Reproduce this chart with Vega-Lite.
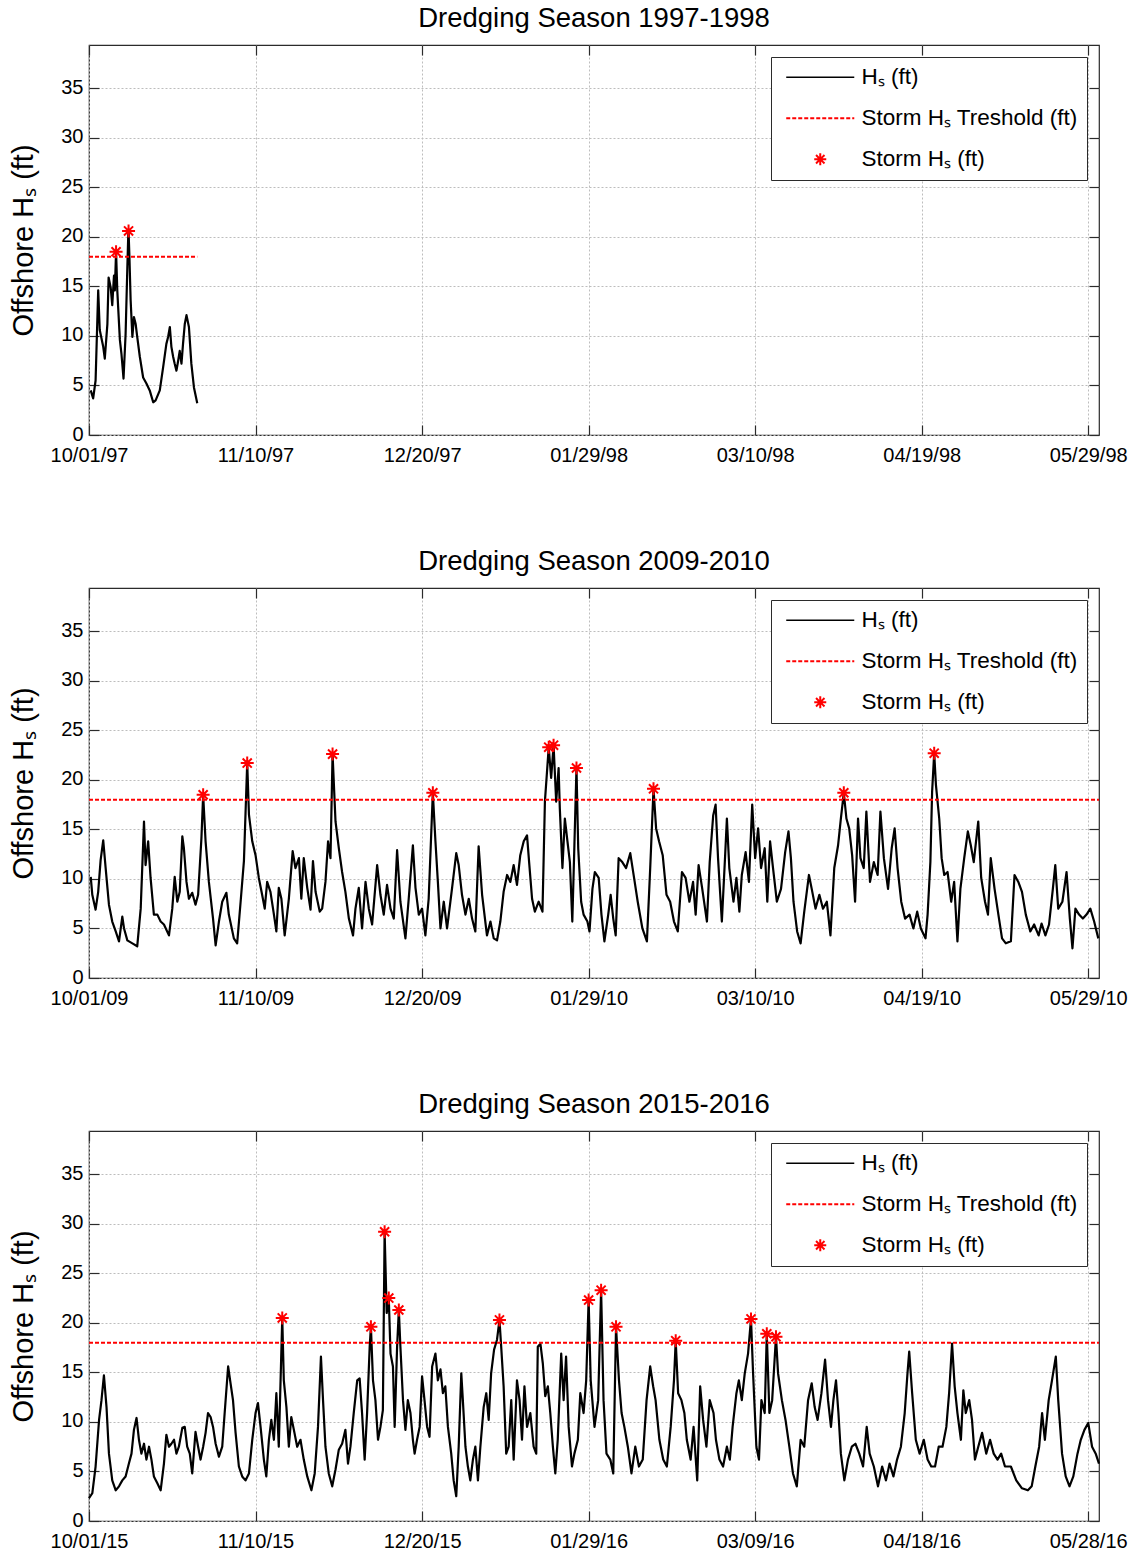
{
  "$schema": "https://vega.github.io/schema/vega-lite/v6.json",
  "background": "white",
  "padding": {"left": 9, "top": 4, "right": 4, "bottom": 4},
  "config": {
    "font": "Liberation Sans",
    "view": {"stroke": "#2b2b2b", "strokeWidth": 1.2},
    "axis": {"labelFont": "Liberation Sans", "labelFontSize": 20, "labelColor": "#000", "titleFont": "Liberation Sans", "titleFontSize": 29, "titleFontWeight": "normal", "titleColor": "#000", "domain": false, "tickColor": "#2b2b2b", "tickSize": -10, "tickWidth": 1.2, "gridColor": "#bdbdbd", "gridDash": [2, 2], "gridWidth": 1},
    "title": {"font": "Liberation Sans", "fontSize": 27.5, "fontWeight": "normal", "color": "#000", "offset": 12},
    "legend": {"orient": "top-right", "offset": 12, "labelFont": "Liberation Sans", "labelFontSize": 22.5, "labelColor": "#000", "strokeColor": "#2b2b2b", "fillColor": "white", "padding": 9, "cornerRadius": 0, "rowPadding": 18, "symbolSize": 144, "symbolOffset": 29, "labelOffset": 30, "symbolStrokeWidth": 1.5, "labelLimit": 400}
  },
  "datasets": {
    "p97": [
      {"t":"1997-10-01T10:00","hs":4.5},{"t":"1997-10-02T00:00","hs":3.7},{"t":"1997-10-02T14:00","hs":5.5},{"t":"1997-10-03T05:00","hs":14.6},{"t":"1997-10-03T14:00","hs":10.6},{"t":"1997-10-04T10:00","hs":8.9},{"t":"1997-10-04T19:00","hs":7.7},{"t":"1997-10-05T10:00","hs":11.2},{"t":"1997-10-05T17:00","hs":15.9},{"t":"1997-10-06T05:00","hs":14.9},{"t":"1997-10-06T14:00","hs":13.1},{"t":"1997-10-07T00:00","hs":16.1},{"t":"1997-10-07T05:00","hs":14.6},{"t":"1997-10-07T12:00","hs":18.5},{"t":"1997-10-07T19:00","hs":14.6},{"t":"1997-10-08T10:00","hs":9.6},{"t":"1997-10-08T19:00","hs":8.2},{"t":"1997-10-09T07:00","hs":5.7},{"t":"1997-10-09T19:00","hs":10.2},{"t":"1997-10-10T05:00","hs":16.9},{"t":"1997-10-10T10:00","hs":20.0},{"t":"1997-10-10T12:00","hs":20.6},{"t":"1997-10-10T17:00","hs":18.0},{"t":"1997-10-11T00:00","hs":13.6},{"t":"1997-10-11T10:00","hs":9.9},{"t":"1997-10-11T19:00","hs":11.9},{"t":"1997-10-12T05:00","hs":11.2},{"t":"1997-10-12T14:00","hs":9.9},{"t":"1997-10-13T05:00","hs":7.9},{"t":"1997-10-14T00:00","hs":5.8},{"t":"1997-10-14T19:00","hs":5.2},{"t":"1997-10-15T14:00","hs":4.5},{"t":"1997-10-16T10:00","hs":3.3},{"t":"1997-10-17T00:00","hs":3.5},{"t":"1997-10-18T00:00","hs":4.5},{"t":"1997-10-18T19:00","hs":6.8},{"t":"1997-10-19T14:00","hs":9.2},{"t":"1997-10-20T00:00","hs":9.9},{"t":"1997-10-20T10:00","hs":10.9},{"t":"1997-10-20T19:00","hs":8.9},{"t":"1997-10-21T05:00","hs":7.9},{"t":"1997-10-21T14:00","hs":7.2},{"t":"1997-10-22T00:00","hs":6.5},{"t":"1997-10-22T10:00","hs":7.5},{"t":"1997-10-22T19:00","hs":8.5},{"t":"1997-10-23T05:00","hs":7.2},{"t":"1997-10-23T14:00","hs":9.2},{"t":"1997-10-24T00:00","hs":11.2},{"t":"1997-10-24T10:00","hs":12.1},{"t":"1997-10-25T00:00","hs":10.9},{"t":"1997-10-25T14:00","hs":7.2},{"t":"1997-10-26T05:00","hs":4.8},{"t":"1997-10-27T00:00","hs":3.2}
    ],
    "s97": [{"t":"1997-10-07T12:00","hs":18.5},{"t":"1997-10-10T12:00","hs":20.6}],
    "th97": [{"t0":"1997-10-01T00:00","t1":"1997-10-27T00:00","thr":18}],
    "p09": [
      {"t":"2009-10-01T10:00","hs":10.2},{"t":"2009-10-01T19:00","hs":8.4},{"t":"2009-10-02T14:00","hs":6.9},{"t":"2009-10-03T05:00","hs":8.7},{"t":"2009-10-03T19:00","hs":11.9},{"t":"2009-10-04T10:00","hs":13.9},{"t":"2009-10-05T00:00","hs":11.1},{"t":"2009-10-05T19:00","hs":7.4},{"t":"2009-10-06T14:00","hs":5.7},{"t":"2009-10-07T10:00","hs":4.7},{"t":"2009-10-08T05:00","hs":3.7},{"t":"2009-10-09T00:00","hs":6.2},{"t":"2009-10-09T10:00","hs":5.0},{"t":"2009-10-10T05:00","hs":3.8},{"t":"2009-10-11T10:00","hs":3.5},{"t":"2009-10-12T14:00","hs":3.2},{"t":"2009-10-13T10:00","hs":7.0},{"t":"2009-10-14T05:00","hs":15.8},{"t":"2009-10-14T14:00","hs":11.4},{"t":"2009-10-15T05:00","hs":13.8},{"t":"2009-10-15T19:00","hs":10.1},{"t":"2009-10-16T14:00","hs":6.4},{"t":"2009-10-17T10:00","hs":6.4},{"t":"2009-10-18T05:00","hs":5.7},{"t":"2009-10-19T00:00","hs":5.4},{"t":"2009-10-20T05:00","hs":4.3},{"t":"2009-10-21T00:00","hs":7.0},{"t":"2009-10-21T14:00","hs":10.2},{"t":"2009-10-22T05:00","hs":7.7},{"t":"2009-10-22T19:00","hs":8.7},{"t":"2009-10-23T10:00","hs":14.3},{"t":"2009-10-23T19:00","hs":13.1},{"t":"2009-10-24T10:00","hs":9.7},{"t":"2009-10-25T00:00","hs":8.0},{"t":"2009-10-25T19:00","hs":8.6},{"t":"2009-10-26T14:00","hs":7.4},{"t":"2009-10-27T05:00","hs":8.4},{"t":"2009-10-28T00:00","hs":14.1},{"t":"2009-10-28T10:00","hs":18.5},{"t":"2009-10-29T00:00","hs":13.8},{"t":"2009-10-29T19:00","hs":9.7},{"t":"2009-10-30T19:00","hs":6.0},{"t":"2009-10-31T10:00","hs":3.3},
      {"t":"2009-11-01T05:00","hs":5.7},{"t":"2009-11-02T00:00","hs":7.7},{"t":"2009-11-03T00:00","hs":8.6},{"t":"2009-11-03T14:00","hs":6.4},{"t":"2009-11-04T19:00","hs":4.0},{"t":"2009-11-05T14:00","hs":3.5},{"t":"2009-11-06T10:00","hs":7.7},{"t":"2009-11-07T05:00","hs":11.8},{"t":"2009-11-08T00:00","hs":21.7},{"t":"2009-11-08T10:00","hs":16.5},{"t":"2009-11-09T05:00","hs":13.8},{"t":"2009-11-10T00:00","hs":12.4},{"t":"2009-11-10T19:00","hs":10.1},{"t":"2009-11-11T14:00","hs":8.4},{"t":"2009-11-12T05:00","hs":7.0},{"t":"2009-11-12T19:00","hs":9.7},{"t":"2009-11-13T14:00","hs":8.7},{"t":"2009-11-14T10:00","hs":6.4},{"t":"2009-11-15T00:00","hs":4.7},{"t":"2009-11-15T14:00","hs":9.1},{"t":"2009-11-16T05:00","hs":8.0},{"t":"2009-11-17T00:00","hs":4.3},{"t":"2009-11-18T00:00","hs":8.0},{"t":"2009-11-18T22:00","hs":12.8},{"t":"2009-11-19T14:00","hs":11.1},{"t":"2009-11-20T10:00","hs":12.1},{"t":"2009-11-21T00:00","hs":8.0},{"t":"2009-11-21T14:00","hs":12.1},{"t":"2009-11-22T10:00","hs":9.1},{"t":"2009-11-23T05:00","hs":6.9},{"t":"2009-11-23T19:00","hs":11.8},{"t":"2009-11-24T10:00","hs":8.7},{"t":"2009-11-25T10:00","hs":6.7},{"t":"2009-11-26T00:00","hs":7.0},{"t":"2009-11-26T19:00","hs":9.7},{"t":"2009-11-27T10:00","hs":13.8},{"t":"2009-11-28T00:00","hs":12.1},{"t":"2009-11-28T12:00","hs":22.6},{"t":"2009-11-29T05:00","hs":15.8},{"t":"2009-11-30T00:00","hs":13.1},{"t":"2009-11-30T19:00","hs":10.7},
      {"t":"2009-12-01T14:00","hs":8.7},{"t":"2009-12-02T10:00","hs":6.0},{"t":"2009-12-03T10:00","hs":4.3},{"t":"2009-12-04T00:00","hs":7.0},{"t":"2009-12-04T19:00","hs":9.1},{"t":"2009-12-05T14:00","hs":5.0},{"t":"2009-12-06T10:00","hs":9.7},{"t":"2009-12-07T05:00","hs":7.0},{"t":"2009-12-08T00:00","hs":5.4},{"t":"2009-12-09T05:00","hs":11.4},{"t":"2009-12-10T00:00","hs":8.4},{"t":"2009-12-10T19:00","hs":6.4},{"t":"2009-12-11T14:00","hs":9.4},{"t":"2009-12-12T10:00","hs":7.0},{"t":"2009-12-13T05:00","hs":6.0},{"t":"2009-12-14T00:00","hs":12.9},{"t":"2009-12-14T19:00","hs":7.7},{"t":"2009-12-16T00:00","hs":4.0},{"t":"2009-12-16T19:00","hs":8.0},{"t":"2009-12-17T19:00","hs":13.4},{"t":"2009-12-18T10:00","hs":9.1},{"t":"2009-12-19T05:00","hs":6.4},{"t":"2009-12-20T00:00","hs":7.0},{"t":"2009-12-20T19:00","hs":4.3},{"t":"2009-12-21T14:00","hs":8.0},{"t":"2009-12-22T14:00","hs":18.7},{"t":"2009-12-23T05:00","hs":13.8},{"t":"2009-12-23T19:00","hs":9.7},{"t":"2009-12-24T10:00","hs":5.0},{"t":"2009-12-25T05:00","hs":7.7},{"t":"2009-12-26T00:00","hs":5.0},{"t":"2009-12-27T05:00","hs":9.1},{"t":"2009-12-28T05:00","hs":12.6},{"t":"2009-12-28T19:00","hs":11.4},{"t":"2009-12-29T14:00","hs":8.4},{"t":"2009-12-30T10:00","hs":6.4},{"t":"2009-12-31T05:00","hs":8.0},
      {"t":"2010-01-01T00:00","hs":6.0},{"t":"2010-01-01T19:00","hs":4.7},{"t":"2010-01-02T14:00","hs":13.3},{"t":"2010-01-03T10:00","hs":8.4},{"t":"2010-01-04T14:00","hs":4.3},{"t":"2010-01-05T10:00","hs":5.7},{"t":"2010-01-06T05:00","hs":4.0},{"t":"2010-01-07T00:00","hs":3.8},{"t":"2010-01-07T19:00","hs":5.7},{"t":"2010-01-08T14:00","hs":8.7},{"t":"2010-01-09T10:00","hs":10.4},{"t":"2010-01-10T05:00","hs":9.7},{"t":"2010-01-11T00:00","hs":11.4},{"t":"2010-01-11T19:00","hs":9.4},{"t":"2010-01-12T14:00","hs":12.4},{"t":"2010-01-13T10:00","hs":13.8},{"t":"2010-01-14T05:00","hs":14.4},{"t":"2010-01-14T17:00","hs":11.7},{"t":"2010-01-15T10:00","hs":8.0},{"t":"2010-01-16T02:00","hs":6.7},{"t":"2010-01-17T00:00","hs":7.7},{"t":"2010-01-17T22:00","hs":6.7},{"t":"2010-01-18T12:00","hs":17.8},{"t":"2010-01-19T00:00","hs":20.8},{"t":"2010-01-19T10:00","hs":23.3},{"t":"2010-01-20T00:00","hs":20.2},{"t":"2010-01-20T14:00","hs":23.5},{"t":"2010-01-21T05:00","hs":17.8},{"t":"2010-01-21T19:00","hs":21.2},{"t":"2010-01-22T02:00","hs":17.1},{"t":"2010-01-22T17:00","hs":11.1},{"t":"2010-01-23T07:00","hs":16.1},{"t":"2010-01-23T22:00","hs":13.8},{"t":"2010-01-24T12:00","hs":11.7},{"t":"2010-01-25T02:00","hs":5.7},{"t":"2010-01-25T14:00","hs":13.4},{"t":"2010-01-26T02:00","hs":21.2},{"t":"2010-01-26T12:00","hs":13.1},{"t":"2010-01-27T05:00","hs":7.7},{"t":"2010-01-27T19:00","hs":6.4},{"t":"2010-01-28T17:00","hs":5.7},{"t":"2010-01-29T05:00","hs":4.7},{"t":"2010-01-29T22:00","hs":9.0},{"t":"2010-01-30T12:00","hs":10.7},{"t":"2010-01-31T10:00","hs":10.1},
      {"t":"2010-02-01T02:00","hs":6.4},{"t":"2010-02-01T19:00","hs":3.7},{"t":"2010-02-02T17:00","hs":6.4},{"t":"2010-02-03T07:00","hs":8.4},{"t":"2010-02-03T22:00","hs":6.0},{"t":"2010-02-04T12:00","hs":4.3},{"t":"2010-02-05T05:00","hs":12.1},{"t":"2010-02-06T02:00","hs":11.7},{"t":"2010-02-07T00:00","hs":11.1},{"t":"2010-02-08T00:00","hs":12.6},{"t":"2010-02-08T22:00","hs":10.1},{"t":"2010-02-09T19:00","hs":7.7},{"t":"2010-02-10T22:00","hs":5.0},{"t":"2010-02-12T00:00","hs":3.7},{"t":"2010-02-12T19:00","hs":11.1},{"t":"2010-02-13T14:00","hs":19.1},{"t":"2010-02-14T05:00","hs":15.1},{"t":"2010-02-14T22:00","hs":13.8},{"t":"2010-02-15T19:00","hs":12.4},{"t":"2010-02-16T17:00","hs":8.4},{"t":"2010-02-17T14:00","hs":7.7},{"t":"2010-02-18T12:00","hs":5.7},{"t":"2010-02-19T10:00","hs":4.7},{"t":"2010-02-20T10:00","hs":10.7},{"t":"2010-02-21T07:00","hs":10.1},{"t":"2010-02-22T05:00","hs":7.7},{"t":"2010-02-23T02:00","hs":9.7},{"t":"2010-02-23T17:00","hs":6.4},{"t":"2010-02-24T10:00","hs":11.4},{"t":"2010-02-25T07:00","hs":9.0},{"t":"2010-02-26T10:00","hs":5.7},{"t":"2010-02-27T02:00","hs":11.7},{"t":"2010-02-27T22:00","hs":16.4},{"t":"2010-02-28T12:00","hs":17.5},
      {"t":"2010-03-01T02:00","hs":12.1},{"t":"2010-03-02T00:00","hs":5.7},{"t":"2010-03-02T19:00","hs":12.4},{"t":"2010-03-03T05:00","hs":16.1},{"t":"2010-03-03T19:00","hs":11.1},{"t":"2010-03-04T19:00","hs":7.7},{"t":"2010-03-05T12:00","hs":10.1},{"t":"2010-03-06T05:00","hs":6.7},{"t":"2010-03-06T19:00","hs":10.4},{"t":"2010-03-07T17:00","hs":12.7},{"t":"2010-03-08T12:00","hs":9.7},{"t":"2010-03-09T07:00","hs":17.5},{"t":"2010-03-10T00:00","hs":12.1},{"t":"2010-03-10T17:00","hs":15.1},{"t":"2010-03-11T10:00","hs":11.1},{"t":"2010-03-12T07:00","hs":13.1},{"t":"2010-03-12T22:00","hs":7.7},{"t":"2010-03-13T14:00","hs":13.8},{"t":"2010-03-14T07:00","hs":11.1},{"t":"2010-03-15T05:00","hs":7.7},{"t":"2010-03-16T05:00","hs":9.0},{"t":"2010-03-17T05:00","hs":12.7},{"t":"2010-03-18T00:00","hs":14.8},{"t":"2010-03-18T14:00","hs":12.1},{"t":"2010-03-19T05:00","hs":7.7},{"t":"2010-03-20T02:00","hs":4.7},{"t":"2010-03-20T22:00","hs":3.5},{"t":"2010-03-21T19:00","hs":6.7},{"t":"2010-03-22T22:00","hs":10.4},{"t":"2010-03-23T14:00","hs":9.0},{"t":"2010-03-24T12:00","hs":7.0},{"t":"2010-03-25T10:00","hs":8.4},{"t":"2010-03-26T07:00","hs":7.0},{"t":"2010-03-27T05:00","hs":7.7},{"t":"2010-03-28T02:00","hs":4.3},{"t":"2010-03-29T00:00","hs":11.1},{"t":"2010-03-29T22:00","hs":13.4},{"t":"2010-03-30T14:00","hs":16.1},{"t":"2010-03-31T07:00","hs":18.7},{"t":"2010-03-31T22:00","hs":16.1},
      {"t":"2010-04-01T14:00","hs":15.1},{"t":"2010-04-02T07:00","hs":12.4},{"t":"2010-04-03T00:00","hs":7.7},{"t":"2010-04-03T17:00","hs":16.1},{"t":"2010-04-04T07:00","hs":12.1},{"t":"2010-04-05T02:00","hs":11.1},{"t":"2010-04-05T17:00","hs":16.8},{"t":"2010-04-06T14:00","hs":9.7},{"t":"2010-04-07T12:00","hs":11.7},{"t":"2010-04-08T10:00","hs":10.4},{"t":"2010-04-09T02:00","hs":16.8},{"t":"2010-04-09T22:00","hs":12.1},{"t":"2010-04-10T22:00","hs":9.0},{"t":"2010-04-11T19:00","hs":13.1},{"t":"2010-04-12T12:00","hs":15.1},{"t":"2010-04-13T05:00","hs":11.1},{"t":"2010-04-14T02:00","hs":7.7},{"t":"2010-04-15T00:00","hs":6.0},{"t":"2010-04-16T02:00","hs":6.4},{"t":"2010-04-17T00:00","hs":5.0},{"t":"2010-04-17T22:00","hs":6.7},{"t":"2010-04-18T19:00","hs":5.0},{"t":"2010-04-19T22:00","hs":4.0},{"t":"2010-04-20T10:00","hs":6.4},{"t":"2010-04-21T02:00","hs":11.7},{"t":"2010-04-21T12:00","hs":18.8},{"t":"2010-04-22T00:00","hs":22.7},{"t":"2010-04-22T10:00","hs":19.5},{"t":"2010-04-23T05:00","hs":16.1},{"t":"2010-04-23T19:00","hs":12.1},{"t":"2010-04-24T10:00","hs":10.4},{"t":"2010-04-25T05:00","hs":10.7},{"t":"2010-04-26T02:00","hs":7.7},{"t":"2010-04-26T19:00","hs":9.7},{"t":"2010-04-27T14:00","hs":3.7},{"t":"2010-04-28T07:00","hs":9.0},{"t":"2010-04-29T05:00","hs":12.1},{"t":"2010-04-30T02:00","hs":14.8},{"t":"2010-04-30T19:00","hs":13.4},
      {"t":"2010-05-01T12:00","hs":11.7},{"t":"2010-05-02T14:00","hs":15.8},{"t":"2010-05-03T07:00","hs":10.1},{"t":"2010-05-04T05:00","hs":7.7},{"t":"2010-05-04T22:00","hs":6.4},{"t":"2010-05-05T14:00","hs":12.1},{"t":"2010-05-06T12:00","hs":9.0},{"t":"2010-05-07T10:00","hs":6.4},{"t":"2010-05-08T07:00","hs":4.0},{"t":"2010-05-09T05:00","hs":3.5},{"t":"2010-05-10T10:00","hs":3.7},{"t":"2010-05-11T07:00","hs":10.4},{"t":"2010-05-12T05:00","hs":9.7},{"t":"2010-05-13T02:00","hs":8.7},{"t":"2010-05-14T00:00","hs":6.4},{"t":"2010-05-15T02:00","hs":4.7},{"t":"2010-05-16T00:00","hs":5.4},{"t":"2010-05-17T02:00","hs":4.3},{"t":"2010-05-17T19:00","hs":5.5},{"t":"2010-05-18T17:00","hs":4.3},{"t":"2010-05-19T14:00","hs":5.4},{"t":"2010-05-20T12:00","hs":9.0},{"t":"2010-05-21T02:00","hs":11.4},{"t":"2010-05-21T19:00","hs":7.0},{"t":"2010-05-22T19:00","hs":7.7},{"t":"2010-05-23T19:00","hs":10.7},{"t":"2010-05-24T14:00","hs":6.0},{"t":"2010-05-25T05:00","hs":3.0},{"t":"2010-05-25T22:00","hs":7.0},{"t":"2010-05-26T19:00","hs":6.4},{"t":"2010-05-27T17:00","hs":6.0},{"t":"2010-05-28T14:00","hs":6.4},{"t":"2010-05-29T12:00","hs":7.0},{"t":"2010-05-30T10:00","hs":5.7},{"t":"2010-05-31T10:00","hs":4.0}
    ],
    "s09": [{"t":"2009-10-28T10:00","hs":18.5},{"t":"2009-11-08T00:00","hs":21.7},{"t":"2009-11-28T12:00","hs":22.6},{"t":"2009-12-22T14:00","hs":18.7},{"t":"2010-01-19T10:00","hs":23.3},{"t":"2010-01-20T14:00","hs":23.5},{"t":"2010-01-26T02:00","hs":21.2},{"t":"2010-02-13T14:00","hs":19.1},{"t":"2010-03-31T07:00","hs":18.7},{"t":"2010-04-22T00:00","hs":22.7}],
    "th09": [{"t0":"2009-10-01T00:00","t1":"2010-05-31T14:00","thr":18}],
    "p15": [
      {"t":"2015-10-01T00:00","hs":2.3},{"t":"2015-10-01T19:00","hs":2.8},{"t":"2015-10-02T14:00","hs":5.5},{"t":"2015-10-03T10:00","hs":10.2},{"t":"2015-10-04T00:00","hs":12.2},{"t":"2015-10-04T14:00","hs":14.7},{"t":"2015-10-05T05:00","hs":11.5},{"t":"2015-10-05T19:00","hs":6.8},{"t":"2015-10-06T14:00","hs":4.1},{"t":"2015-10-07T10:00","hs":3.1},{"t":"2015-10-08T05:00","hs":3.5},{"t":"2015-10-09T00:00","hs":4.1},{"t":"2015-10-09T19:00","hs":4.5},{"t":"2015-10-10T14:00","hs":5.8},{"t":"2015-10-11T05:00","hs":6.8},{"t":"2015-10-11T19:00","hs":9.2},{"t":"2015-10-12T10:00","hs":10.4},{"t":"2015-10-13T00:00","hs":8.2},{"t":"2015-10-13T14:00","hs":6.8},{"t":"2015-10-14T05:00","hs":7.8},{"t":"2015-10-14T19:00","hs":6.2},{"t":"2015-10-15T10:00","hs":7.5},{"t":"2015-10-16T00:00","hs":6.2},{"t":"2015-10-16T14:00","hs":4.5},{"t":"2015-10-17T10:00","hs":3.8},{"t":"2015-10-18T05:00","hs":3.1},{"t":"2015-10-19T00:00","hs":5.8},{"t":"2015-10-19T14:00","hs":8.7},{"t":"2015-10-20T05:00","hs":7.5},{"t":"2015-10-20T19:00","hs":7.8},{"t":"2015-10-21T10:00","hs":8.2},{"t":"2015-10-22T00:00","hs":6.8},{"t":"2015-10-22T14:00","hs":7.5},{"t":"2015-10-23T10:00","hs":9.4},{"t":"2015-10-24T00:00","hs":9.5},{"t":"2015-10-24T14:00","hs":7.5},{"t":"2015-10-25T05:00","hs":6.8},{"t":"2015-10-25T19:00","hs":4.8},{"t":"2015-10-26T14:00","hs":9.0},{"t":"2015-10-27T05:00","hs":7.5},{"t":"2015-10-27T19:00","hs":6.2},{"t":"2015-10-28T10:00","hs":7.5},{"t":"2015-10-29T00:00","hs":8.9},{"t":"2015-10-29T14:00","hs":10.9},{"t":"2015-10-30T05:00","hs":10.5},{"t":"2015-10-30T19:00","hs":9.5},{"t":"2015-10-31T10:00","hs":7.8},
      {"t":"2015-11-01T05:00","hs":6.5},{"t":"2015-11-02T00:00","hs":7.5},{"t":"2015-11-02T14:00","hs":10.9},{"t":"2015-11-03T10:00","hs":15.6},{"t":"2015-11-04T00:00","hs":13.9},{"t":"2015-11-04T14:00","hs":12.2},{"t":"2015-11-05T05:00","hs":8.9},{"t":"2015-11-06T00:00","hs":5.5},{"t":"2015-11-06T19:00","hs":4.5},{"t":"2015-11-07T14:00","hs":4.1},{"t":"2015-11-08T10:00","hs":4.8},{"t":"2015-11-09T05:00","hs":8.2},{"t":"2015-11-10T00:00","hs":10.9},{"t":"2015-11-10T14:00","hs":11.9},{"t":"2015-11-11T05:00","hs":9.5},{"t":"2015-11-12T00:00","hs":6.2},{"t":"2015-11-12T14:00","hs":4.5},{"t":"2015-11-13T05:00","hs":8.2},{"t":"2015-11-13T19:00","hs":10.2},{"t":"2015-11-14T10:00","hs":8.2},{"t":"2015-11-15T00:00","hs":12.9},{"t":"2015-11-15T14:00","hs":7.5},{"t":"2015-11-16T10:00","hs":20.5},{"t":"2015-11-16T19:00","hs":14.2},{"t":"2015-11-17T10:00","hs":11.5},{"t":"2015-11-18T00:00","hs":7.5},{"t":"2015-11-18T14:00","hs":10.5},{"t":"2015-11-19T05:00","hs":9.2},{"t":"2015-11-20T00:00","hs":7.5},{"t":"2015-11-20T19:00","hs":8.2},{"t":"2015-11-21T14:00","hs":6.2},{"t":"2015-11-22T10:00","hs":4.5},{"t":"2015-11-23T10:00","hs":3.1},{"t":"2015-11-24T05:00","hs":4.8},{"t":"2015-11-25T00:00","hs":9.5},{"t":"2015-11-25T17:00","hs":16.6},{"t":"2015-11-26T05:00","hs":12.2},{"t":"2015-11-26T19:00","hs":7.5},{"t":"2015-11-27T14:00","hs":4.8},{"t":"2015-11-28T10:00","hs":3.5},{"t":"2015-11-29T05:00","hs":5.2},{"t":"2015-11-30T00:00","hs":7.2},{"t":"2015-11-30T19:00","hs":7.8},
      {"t":"2015-12-01T14:00","hs":9.2},{"t":"2015-12-02T05:00","hs":5.8},{"t":"2015-12-02T19:00","hs":7.5},{"t":"2015-12-03T14:00","hs":10.9},{"t":"2015-12-04T10:00","hs":14.2},{"t":"2015-12-05T00:00","hs":14.4},{"t":"2015-12-05T14:00","hs":10.9},{"t":"2015-12-06T05:00","hs":6.2},{"t":"2015-12-06T19:00","hs":10.9},{"t":"2015-12-07T10:00","hs":17.6},{"t":"2015-12-07T17:00","hs":19.6},{"t":"2015-12-08T05:00","hs":14.2},{"t":"2015-12-08T19:00","hs":12.2},{"t":"2015-12-09T10:00","hs":8.2},{"t":"2015-12-10T00:00","hs":9.5},{"t":"2015-12-10T14:00","hs":11.2},{"t":"2015-12-11T00:00","hs":29.2},{"t":"2015-12-11T12:00","hs":21.0},{"t":"2015-12-12T00:00","hs":22.5},{"t":"2015-12-12T10:00","hs":16.9},{"t":"2015-12-13T00:00","hs":15.6},{"t":"2015-12-13T10:00","hs":9.5},{"t":"2015-12-14T00:00","hs":17.6},{"t":"2015-12-14T10:00","hs":21.3},{"t":"2015-12-14T19:00","hs":17.6},{"t":"2015-12-15T10:00","hs":12.2},{"t":"2015-12-16T00:00","hs":9.2},{"t":"2015-12-16T14:00","hs":12.2},{"t":"2015-12-17T05:00","hs":10.9},{"t":"2015-12-17T19:00","hs":8.2},{"t":"2015-12-18T05:00","hs":6.8},{"t":"2015-12-18T19:00","hs":8.2},{"t":"2015-12-19T10:00","hs":9.5},{"t":"2015-12-20T00:00","hs":14.6},{"t":"2015-12-20T14:00","hs":12.2},{"t":"2015-12-21T05:00","hs":9.5},{"t":"2015-12-21T19:00","hs":8.5},{"t":"2015-12-22T10:00","hs":15.6},{"t":"2015-12-23T05:00","hs":16.9},{"t":"2015-12-23T19:00","hs":14.2},{"t":"2015-12-24T10:00","hs":15.3},{"t":"2015-12-25T00:00","hs":12.9},{"t":"2015-12-25T14:00","hs":13.6},{"t":"2015-12-26T05:00","hs":9.5},{"t":"2015-12-27T00:00","hs":6.8},{"t":"2015-12-27T14:00","hs":4.1},{"t":"2015-12-28T05:00","hs":2.5},{"t":"2015-12-28T19:00","hs":7.5},{"t":"2015-12-29T10:00","hs":14.9},{"t":"2015-12-29T19:00","hs":12.2},{"t":"2015-12-30T10:00","hs":7.5},{"t":"2015-12-31T00:00","hs":5.5},{"t":"2015-12-31T14:00","hs":4.1},
      {"t":"2016-01-01T05:00","hs":6.2},{"t":"2016-01-01T19:00","hs":7.5},{"t":"2016-01-02T10:00","hs":4.1},{"t":"2016-01-03T00:00","hs":7.5},{"t":"2016-01-03T19:00","hs":11.5},{"t":"2016-01-04T10:00","hs":12.9},{"t":"2016-01-05T00:00","hs":10.2},{"t":"2016-01-05T14:00","hs":14.9},{"t":"2016-01-06T07:00","hs":17.3},{"t":"2016-01-07T00:00","hs":18.3},{"t":"2016-01-07T14:00","hs":20.3},{"t":"2016-01-08T00:00","hs":17.6},{"t":"2016-01-08T14:00","hs":13.6},{"t":"2016-01-09T05:00","hs":6.8},{"t":"2016-01-09T19:00","hs":7.5},{"t":"2016-01-10T10:00","hs":12.2},{"t":"2016-01-11T00:00","hs":6.2},{"t":"2016-01-11T19:00","hs":14.2},{"t":"2016-01-12T10:00","hs":12.2},{"t":"2016-01-13T00:00","hs":8.2},{"t":"2016-01-13T14:00","hs":13.6},{"t":"2016-01-14T05:00","hs":9.5},{"t":"2016-01-15T00:00","hs":10.9},{"t":"2016-01-15T19:00","hs":7.5},{"t":"2016-01-16T10:00","hs":6.8},{"t":"2016-01-16T19:00","hs":17.6},{"t":"2016-01-17T10:00","hs":17.9},{"t":"2016-01-18T00:00","hs":15.9},{"t":"2016-01-18T14:00","hs":12.6},{"t":"2016-01-19T05:00","hs":13.6},{"t":"2016-01-19T19:00","hs":10.9},{"t":"2016-01-20T10:00","hs":7.5},{"t":"2016-01-21T00:00","hs":4.8},{"t":"2016-01-21T14:00","hs":8.2},{"t":"2016-01-22T10:00","hs":16.9},{"t":"2016-01-23T00:00","hs":12.2},{"t":"2016-01-23T14:00","hs":16.6},{"t":"2016-01-24T05:00","hs":9.5},{"t":"2016-01-25T00:00","hs":5.5},{"t":"2016-01-25T14:00","hs":6.8},{"t":"2016-01-26T10:00","hs":8.2},{"t":"2016-01-27T00:00","hs":12.9},{"t":"2016-01-27T19:00","hs":10.9},{"t":"2016-01-28T10:00","hs":14.2},{"t":"2016-01-29T00:00","hs":22.3},{"t":"2016-01-29T12:00","hs":14.2},{"t":"2016-01-30T10:00","hs":9.5},{"t":"2016-01-31T07:00","hs":12.2},
      {"t":"2016-02-01T00:00","hs":23.3},{"t":"2016-02-01T14:00","hs":12.2},{"t":"2016-02-02T07:00","hs":6.8},{"t":"2016-02-03T05:00","hs":6.2},{"t":"2016-02-03T22:00","hs":4.8},{"t":"2016-02-04T14:00","hs":19.6},{"t":"2016-02-05T07:00","hs":14.2},{"t":"2016-02-05T22:00","hs":10.9},{"t":"2016-02-06T14:00","hs":9.5},{"t":"2016-02-07T10:00","hs":7.5},{"t":"2016-02-08T07:00","hs":4.8},{"t":"2016-02-09T05:00","hs":7.5},{"t":"2016-02-10T02:00","hs":5.5},{"t":"2016-02-11T00:00","hs":6.2},{"t":"2016-02-11T22:00","hs":12.2},{"t":"2016-02-12T19:00","hs":15.6},{"t":"2016-02-13T12:00","hs":13.6},{"t":"2016-02-14T02:00","hs":12.2},{"t":"2016-02-15T00:00","hs":8.2},{"t":"2016-02-15T22:00","hs":6.2},{"t":"2016-02-16T19:00","hs":5.5},{"t":"2016-02-17T17:00","hs":9.5},{"t":"2016-02-18T12:00","hs":14.2},{"t":"2016-02-18T22:00","hs":18.2},{"t":"2016-02-19T12:00","hs":12.9},{"t":"2016-02-20T07:00","hs":12.2},{"t":"2016-02-21T00:00","hs":10.9},{"t":"2016-02-21T14:00","hs":8.2},{"t":"2016-02-22T12:00","hs":6.2},{"t":"2016-02-23T05:00","hs":9.5},{"t":"2016-02-24T02:00","hs":4.1},{"t":"2016-02-24T19:00","hs":13.6},{"t":"2016-02-25T12:00","hs":10.2},{"t":"2016-02-26T07:00","hs":7.5},{"t":"2016-02-27T02:00","hs":12.2},{"t":"2016-02-28T00:00","hs":10.9},{"t":"2016-02-28T14:00","hs":8.2},{"t":"2016-02-29T10:00","hs":6.2},
      {"t":"2016-03-01T07:00","hs":5.5},{"t":"2016-03-02T05:00","hs":7.5},{"t":"2016-03-02T22:00","hs":6.2},{"t":"2016-03-03T14:00","hs":9.5},{"t":"2016-03-04T12:00","hs":12.9},{"t":"2016-03-05T02:00","hs":14.2},{"t":"2016-03-05T19:00","hs":12.2},{"t":"2016-03-06T12:00","hs":14.9},{"t":"2016-03-07T07:00","hs":16.9},{"t":"2016-03-08T00:00","hs":20.4},{"t":"2016-03-08T12:00","hs":14.9},{"t":"2016-03-09T07:00","hs":7.5},{"t":"2016-03-09T22:00","hs":6.2},{"t":"2016-03-10T12:00","hs":12.2},{"t":"2016-03-11T07:00","hs":10.9},{"t":"2016-03-11T19:00","hs":18.9},{"t":"2016-03-12T10:00","hs":10.9},{"t":"2016-03-13T02:00","hs":12.2},{"t":"2016-03-14T00:00","hs":18.6},{"t":"2016-03-14T12:00","hs":14.9},{"t":"2016-03-15T10:00","hs":12.2},{"t":"2016-03-16T07:00","hs":10.2},{"t":"2016-03-17T05:00","hs":7.5},{"t":"2016-03-18T02:00","hs":4.8},{"t":"2016-03-19T00:00","hs":3.5},{"t":"2016-03-19T22:00","hs":8.2},{"t":"2016-03-20T19:00","hs":7.5},{"t":"2016-03-21T17:00","hs":12.2},{"t":"2016-03-22T14:00","hs":13.9},{"t":"2016-03-23T07:00","hs":11.5},{"t":"2016-03-24T00:00","hs":10.2},{"t":"2016-03-24T22:00","hs":12.9},{"t":"2016-03-25T19:00","hs":16.3},{"t":"2016-03-26T12:00","hs":12.2},{"t":"2016-03-27T05:00","hs":9.5},{"t":"2016-03-27T19:00","hs":12.2},{"t":"2016-03-28T10:00","hs":14.2},{"t":"2016-03-29T00:00","hs":10.9},{"t":"2016-03-29T14:00","hs":6.8},{"t":"2016-03-30T10:00","hs":4.1},{"t":"2016-03-31T07:00","hs":6.2},
      {"t":"2016-04-01T05:00","hs":7.5},{"t":"2016-04-02T02:00","hs":7.8},{"t":"2016-04-03T00:00","hs":6.8},{"t":"2016-04-03T22:00","hs":5.5},{"t":"2016-04-04T19:00","hs":9.5},{"t":"2016-04-05T12:00","hs":6.8},{"t":"2016-04-06T12:00","hs":5.5},{"t":"2016-04-07T12:00","hs":3.5},{"t":"2016-04-08T12:00","hs":5.5},{"t":"2016-04-09T10:00","hs":4.1},{"t":"2016-04-10T07:00","hs":5.8},{"t":"2016-04-11T05:00","hs":4.5},{"t":"2016-04-12T02:00","hs":6.2},{"t":"2016-04-13T00:00","hs":7.5},{"t":"2016-04-13T22:00","hs":10.9},{"t":"2016-04-14T14:00","hs":14.9},{"t":"2016-04-15T00:00","hs":17.1},{"t":"2016-04-15T17:00","hs":12.9},{"t":"2016-04-16T14:00","hs":8.2},{"t":"2016-04-17T12:00","hs":6.8},{"t":"2016-04-18T12:00","hs":8.2},{"t":"2016-04-19T10:00","hs":6.2},{"t":"2016-04-20T07:00","hs":5.5},{"t":"2016-04-21T05:00","hs":5.5},{"t":"2016-04-22T02:00","hs":7.5},{"t":"2016-04-23T00:00","hs":7.5},{"t":"2016-04-23T22:00","hs":9.5},{"t":"2016-04-24T14:00","hs":12.9},{"t":"2016-04-25T07:00","hs":17.9},{"t":"2016-04-25T22:00","hs":13.6},{"t":"2016-04-26T14:00","hs":10.9},{"t":"2016-04-27T10:00","hs":8.2},{"t":"2016-04-28T00:00","hs":13.2},{"t":"2016-04-28T14:00","hs":10.9},{"t":"2016-04-29T10:00","hs":12.2},{"t":"2016-04-30T02:00","hs":10.2},{"t":"2016-04-30T19:00","hs":6.2},
      {"t":"2016-05-01T14:00","hs":7.5},{"t":"2016-05-02T12:00","hs":8.9},{"t":"2016-05-03T12:00","hs":6.8},{"t":"2016-05-04T10:00","hs":8.2},{"t":"2016-05-05T07:00","hs":6.8},{"t":"2016-05-06T05:00","hs":6.2},{"t":"2016-05-07T02:00","hs":6.8},{"t":"2016-05-08T00:00","hs":5.5},{"t":"2016-05-09T10:00","hs":5.5},{"t":"2016-05-10T17:00","hs":4.1},{"t":"2016-05-12T02:00","hs":3.3},{"t":"2016-05-13T12:00","hs":3.1},{"t":"2016-05-14T10:00","hs":3.5},{"t":"2016-05-15T07:00","hs":5.5},{"t":"2016-05-16T05:00","hs":7.5},{"t":"2016-05-16T22:00","hs":10.9},{"t":"2016-05-17T14:00","hs":8.2},{"t":"2016-05-18T12:00","hs":12.2},{"t":"2016-05-19T07:00","hs":14.2},{"t":"2016-05-20T05:00","hs":16.6},{"t":"2016-05-20T19:00","hs":12.2},{"t":"2016-05-21T17:00","hs":6.8},{"t":"2016-05-22T14:00","hs":4.5},{"t":"2016-05-23T12:00","hs":3.5},{"t":"2016-05-24T10:00","hs":4.5},{"t":"2016-05-25T10:00","hs":6.8},{"t":"2016-05-26T05:00","hs":8.2},{"t":"2016-05-27T02:00","hs":9.2},{"t":"2016-05-28T00:00","hs":9.9},{"t":"2016-05-28T22:00","hs":7.5},{"t":"2016-05-29T19:00","hs":6.8},{"t":"2016-05-30T14:00","hs":5.8}
    ],
    "s15": [{"t":"2015-11-16T10:00","hs":20.5},{"t":"2015-12-07T17:00","hs":19.6},{"t":"2015-12-11T00:00","hs":29.2},{"t":"2015-12-12T00:00","hs":22.5},{"t":"2015-12-14T10:00","hs":21.3},{"t":"2016-01-07T14:00","hs":20.3},{"t":"2016-01-29T00:00","hs":22.3},{"t":"2016-02-01T00:00","hs":23.3},{"t":"2016-02-04T14:00","hs":19.6},{"t":"2016-02-18T22:00","hs":18.2},{"t":"2016-03-08T00:00","hs":20.4},{"t":"2016-03-11T19:00","hs":18.9},{"t":"2016-03-14T00:00","hs":18.6}],
    "th15": [{"t0":"2015-10-01T00:00","t1":"2016-05-30T14:00","thr":18}]
  },
  "resolve": {"scale": {"color": "independent"}, "legend": {"color": "independent"}},
  "spacing": 81,
  "vconcat": [
    {
      "title": "Dredging Season 1997-1998",
      "width": 1010, "height": 390,
      "resolve": {"axis": {"x": "independent", "y": "independent"}},
      "layer": [
        {
          "data": {"name": "p97"},
          "mark": {"type": "line", "color": "black", "strokeWidth": 2.2, "strokeJoin": "round"},
          "encoding": {
            "x": {"field": "t", "type": "temporal", "scale": {"domain": [{"year":1997,"month":10,"date":1},{"year":1998,"month":5,"date":31,"hours":14}]}, "axis": {"title": null, "format": "%m/%d/%y", "values": [{"year":1997,"month":10,"date":1},{"year":1997,"month":11,"date":10},{"year":1997,"month":12,"date":20},{"year":1998,"month":1,"date":29},{"year":1998,"month":3,"date":10},{"year":1998,"month":4,"date":19},{"year":1998,"month":5,"date":29}], "labelFlush": false, "labelOverlap": false, "labelPadding": 20, "grid": true}},
            "y": {"field": "hs", "type": "quantitative", "scale": {"domain": [0, 39.37], "nice": false, "zero": true}, "axis": {"title": "Offshore Hₛ (ft)", "values": [0,5,10,15,20,25,30,35], "labelPadding": 16, "labelOffset": -1, "titlePadding": 22, "grid": true}},
            "color": {"datum": "Hₛ (ft)", "type": "nominal", "scale": {"domain": ["Hₛ (ft)", "Storm Hₛ Treshold (ft)", "Storm Hₛ (ft)"], "range": ["#000000", "#ff0000", "#ff0000"]}, "legend": {"title": null, "encode": {"symbols": {"update": {"shape": {"signal": "datum.value === 'Storm Hₛ (ft)' ? 'M-1,0L1,0M0,-1L0,1M-0.7,-0.7L0.7,0.7M-0.7,0.7L0.7,-0.7' : 'M-5.67,0L5.67,0'"}, "strokeDash": {"signal": "datum.value === 'Storm Hₛ Treshold (ft)' ? [4,2] : [1,0]"}, "strokeWidth": {"signal": "datum.value === 'Hₛ (ft)' ? 1.5 : 2"}, "fill": {"value": "transparent"}, "size": {"value": 144}, "opacity": {"value": 1}}}}}}
          }
        },
        {
          "data": {"name": "th97"},
          "mark": {"type": "rule", "strokeDash": [4, 2], "strokeWidth": 2},
          "encoding": {
            "x": {"field": "t0", "type": "temporal", "axis": {"orient": "top", "labels": false, "grid": false, "title": null, "values": [{"year":1997,"month":10,"date":1},{"year":1997,"month":11,"date":10},{"year":1997,"month":12,"date":20},{"year":1998,"month":1,"date":29},{"year":1998,"month":3,"date":10},{"year":1998,"month":4,"date":19},{"year":1998,"month":5,"date":29}]}},
            "x2": {"field": "t1"},
            "y": {"field": "thr", "type": "quantitative", "axis": null},
            "color": {"datum": "Storm Hₛ Treshold (ft)", "type": "nominal"}
          }
        },
        {
          "data": {"name": "s97"},
          "mark": {"type": "point", "shape": "M-1,0L1,0M0,-1L0,1M-0.7,-0.7L0.7,0.7M-0.7,0.7L0.7,-0.7", "filled": false, "size": 169, "strokeWidth": 2, "opacity": 1},
          "encoding": {
            "x": {"field": "t", "type": "temporal", "axis": null},
            "y": {"field": "hs", "type": "quantitative", "axis": {"orient": "right", "labels": false, "grid": false, "title": null, "values": [0,5,10,15,20,25,30,35]}},
            "color": {"datum": "Storm Hₛ (ft)", "type": "nominal"}
          }
        }
      ]
    },
    {
      "title": "Dredging Season 2009-2010",
      "width": 1010, "height": 390,
      "resolve": {"axis": {"x": "independent", "y": "independent"}},
      "layer": [
        {
          "data": {"name": "p09"},
          "mark": {"type": "line", "color": "black", "strokeWidth": 2.2, "strokeJoin": "round"},
          "encoding": {
            "x": {"field": "t", "type": "temporal", "scale": {"domain": [{"year":2009,"month":10,"date":1},{"year":2010,"month":5,"date":31,"hours":14}]}, "axis": {"title": null, "format": "%m/%d/%y", "values": [{"year":2009,"month":10,"date":1},{"year":2009,"month":11,"date":10},{"year":2009,"month":12,"date":20},{"year":2010,"month":1,"date":29},{"year":2010,"month":3,"date":10},{"year":2010,"month":4,"date":19},{"year":2010,"month":5,"date":29}], "labelFlush": false, "labelOverlap": false, "labelPadding": 20, "grid": true}},
            "y": {"field": "hs", "type": "quantitative", "scale": {"domain": [0, 39.37], "nice": false, "zero": true}, "axis": {"title": "Offshore Hₛ (ft)", "values": [0,5,10,15,20,25,30,35], "labelPadding": 16, "labelOffset": -1, "titlePadding": 22, "grid": true}},
            "color": {"datum": "Hₛ (ft)", "type": "nominal", "scale": {"domain": ["Hₛ (ft)", "Storm Hₛ Treshold (ft)", "Storm Hₛ (ft)"], "range": ["#000000", "#ff0000", "#ff0000"]}, "legend": {"title": null, "encode": {"symbols": {"update": {"shape": {"signal": "datum.value === 'Storm Hₛ (ft)' ? 'M-1,0L1,0M0,-1L0,1M-0.7,-0.7L0.7,0.7M-0.7,0.7L0.7,-0.7' : 'M-5.67,0L5.67,0'"}, "strokeDash": {"signal": "datum.value === 'Storm Hₛ Treshold (ft)' ? [4,2] : [1,0]"}, "strokeWidth": {"signal": "datum.value === 'Hₛ (ft)' ? 1.5 : 2"}, "fill": {"value": "transparent"}, "size": {"value": 144}, "opacity": {"value": 1}}}}}}
          }
        },
        {
          "data": {"name": "th09"},
          "mark": {"type": "rule", "strokeDash": [4, 2], "strokeWidth": 2},
          "encoding": {
            "x": {"field": "t0", "type": "temporal", "axis": {"orient": "top", "labels": false, "grid": false, "title": null, "values": [{"year":2009,"month":10,"date":1},{"year":2009,"month":11,"date":10},{"year":2009,"month":12,"date":20},{"year":2010,"month":1,"date":29},{"year":2010,"month":3,"date":10},{"year":2010,"month":4,"date":19},{"year":2010,"month":5,"date":29}]}},
            "x2": {"field": "t1"},
            "y": {"field": "thr", "type": "quantitative", "axis": null},
            "color": {"datum": "Storm Hₛ Treshold (ft)", "type": "nominal"}
          }
        },
        {
          "data": {"name": "s09"},
          "mark": {"type": "point", "shape": "M-1,0L1,0M0,-1L0,1M-0.7,-0.7L0.7,0.7M-0.7,0.7L0.7,-0.7", "filled": false, "size": 169, "strokeWidth": 2, "opacity": 1},
          "encoding": {
            "x": {"field": "t", "type": "temporal", "axis": null},
            "y": {"field": "hs", "type": "quantitative", "axis": {"orient": "right", "labels": false, "grid": false, "title": null, "values": [0,5,10,15,20,25,30,35]}},
            "color": {"datum": "Storm Hₛ (ft)", "type": "nominal"}
          }
        }
      ]
    },
    {
      "title": "Dredging Season 2015-2016",
      "width": 1010, "height": 390,
      "resolve": {"axis": {"x": "independent", "y": "independent"}},
      "layer": [
        {
          "data": {"name": "p15"},
          "mark": {"type": "line", "color": "black", "strokeWidth": 2.2, "strokeJoin": "round"},
          "encoding": {
            "x": {"field": "t", "type": "temporal", "scale": {"domain": [{"year":2015,"month":10,"date":1},{"year":2016,"month":5,"date":30,"hours":14}]}, "axis": {"title": null, "format": "%m/%d/%y", "values": [{"year":2015,"month":10,"date":1},{"year":2015,"month":11,"date":10},{"year":2015,"month":12,"date":20},{"year":2016,"month":1,"date":29},{"year":2016,"month":3,"date":9},{"year":2016,"month":4,"date":18},{"year":2016,"month":5,"date":28}], "labelFlush": false, "labelOverlap": false, "labelPadding": 20, "grid": true}},
            "y": {"field": "hs", "type": "quantitative", "scale": {"domain": [0, 39.37], "nice": false, "zero": true}, "axis": {"title": "Offshore Hₛ (ft)", "values": [0,5,10,15,20,25,30,35], "labelPadding": 16, "labelOffset": -1, "titlePadding": 22, "grid": true}},
            "color": {"datum": "Hₛ (ft)", "type": "nominal", "scale": {"domain": ["Hₛ (ft)", "Storm Hₛ Treshold (ft)", "Storm Hₛ (ft)"], "range": ["#000000", "#ff0000", "#ff0000"]}, "legend": {"title": null, "encode": {"symbols": {"update": {"shape": {"signal": "datum.value === 'Storm Hₛ (ft)' ? 'M-1,0L1,0M0,-1L0,1M-0.7,-0.7L0.7,0.7M-0.7,0.7L0.7,-0.7' : 'M-5.67,0L5.67,0'"}, "strokeDash": {"signal": "datum.value === 'Storm Hₛ Treshold (ft)' ? [4,2] : [1,0]"}, "strokeWidth": {"signal": "datum.value === 'Hₛ (ft)' ? 1.5 : 2"}, "fill": {"value": "transparent"}, "size": {"value": 144}, "opacity": {"value": 1}}}}}}
          }
        },
        {
          "data": {"name": "th15"},
          "mark": {"type": "rule", "strokeDash": [4, 2], "strokeWidth": 2},
          "encoding": {
            "x": {"field": "t0", "type": "temporal", "axis": {"orient": "top", "labels": false, "grid": false, "title": null, "values": [{"year":2015,"month":10,"date":1},{"year":2015,"month":11,"date":10},{"year":2015,"month":12,"date":20},{"year":2016,"month":1,"date":29},{"year":2016,"month":3,"date":9},{"year":2016,"month":4,"date":18},{"year":2016,"month":5,"date":28}]}},
            "x2": {"field": "t1"},
            "y": {"field": "thr", "type": "quantitative", "axis": null},
            "color": {"datum": "Storm Hₛ Treshold (ft)", "type": "nominal"}
          }
        },
        {
          "data": {"name": "s15"},
          "mark": {"type": "point", "shape": "M-1,0L1,0M0,-1L0,1M-0.7,-0.7L0.7,0.7M-0.7,0.7L0.7,-0.7", "filled": false, "size": 169, "strokeWidth": 2, "opacity": 1},
          "encoding": {
            "x": {"field": "t", "type": "temporal", "axis": null},
            "y": {"field": "hs", "type": "quantitative", "axis": {"orient": "right", "labels": false, "grid": false, "title": null, "values": [0,5,10,15,20,25,30,35]}},
            "color": {"datum": "Storm Hₛ (ft)", "type": "nominal"}
          }
        }
      ]
    }
  ]
}
